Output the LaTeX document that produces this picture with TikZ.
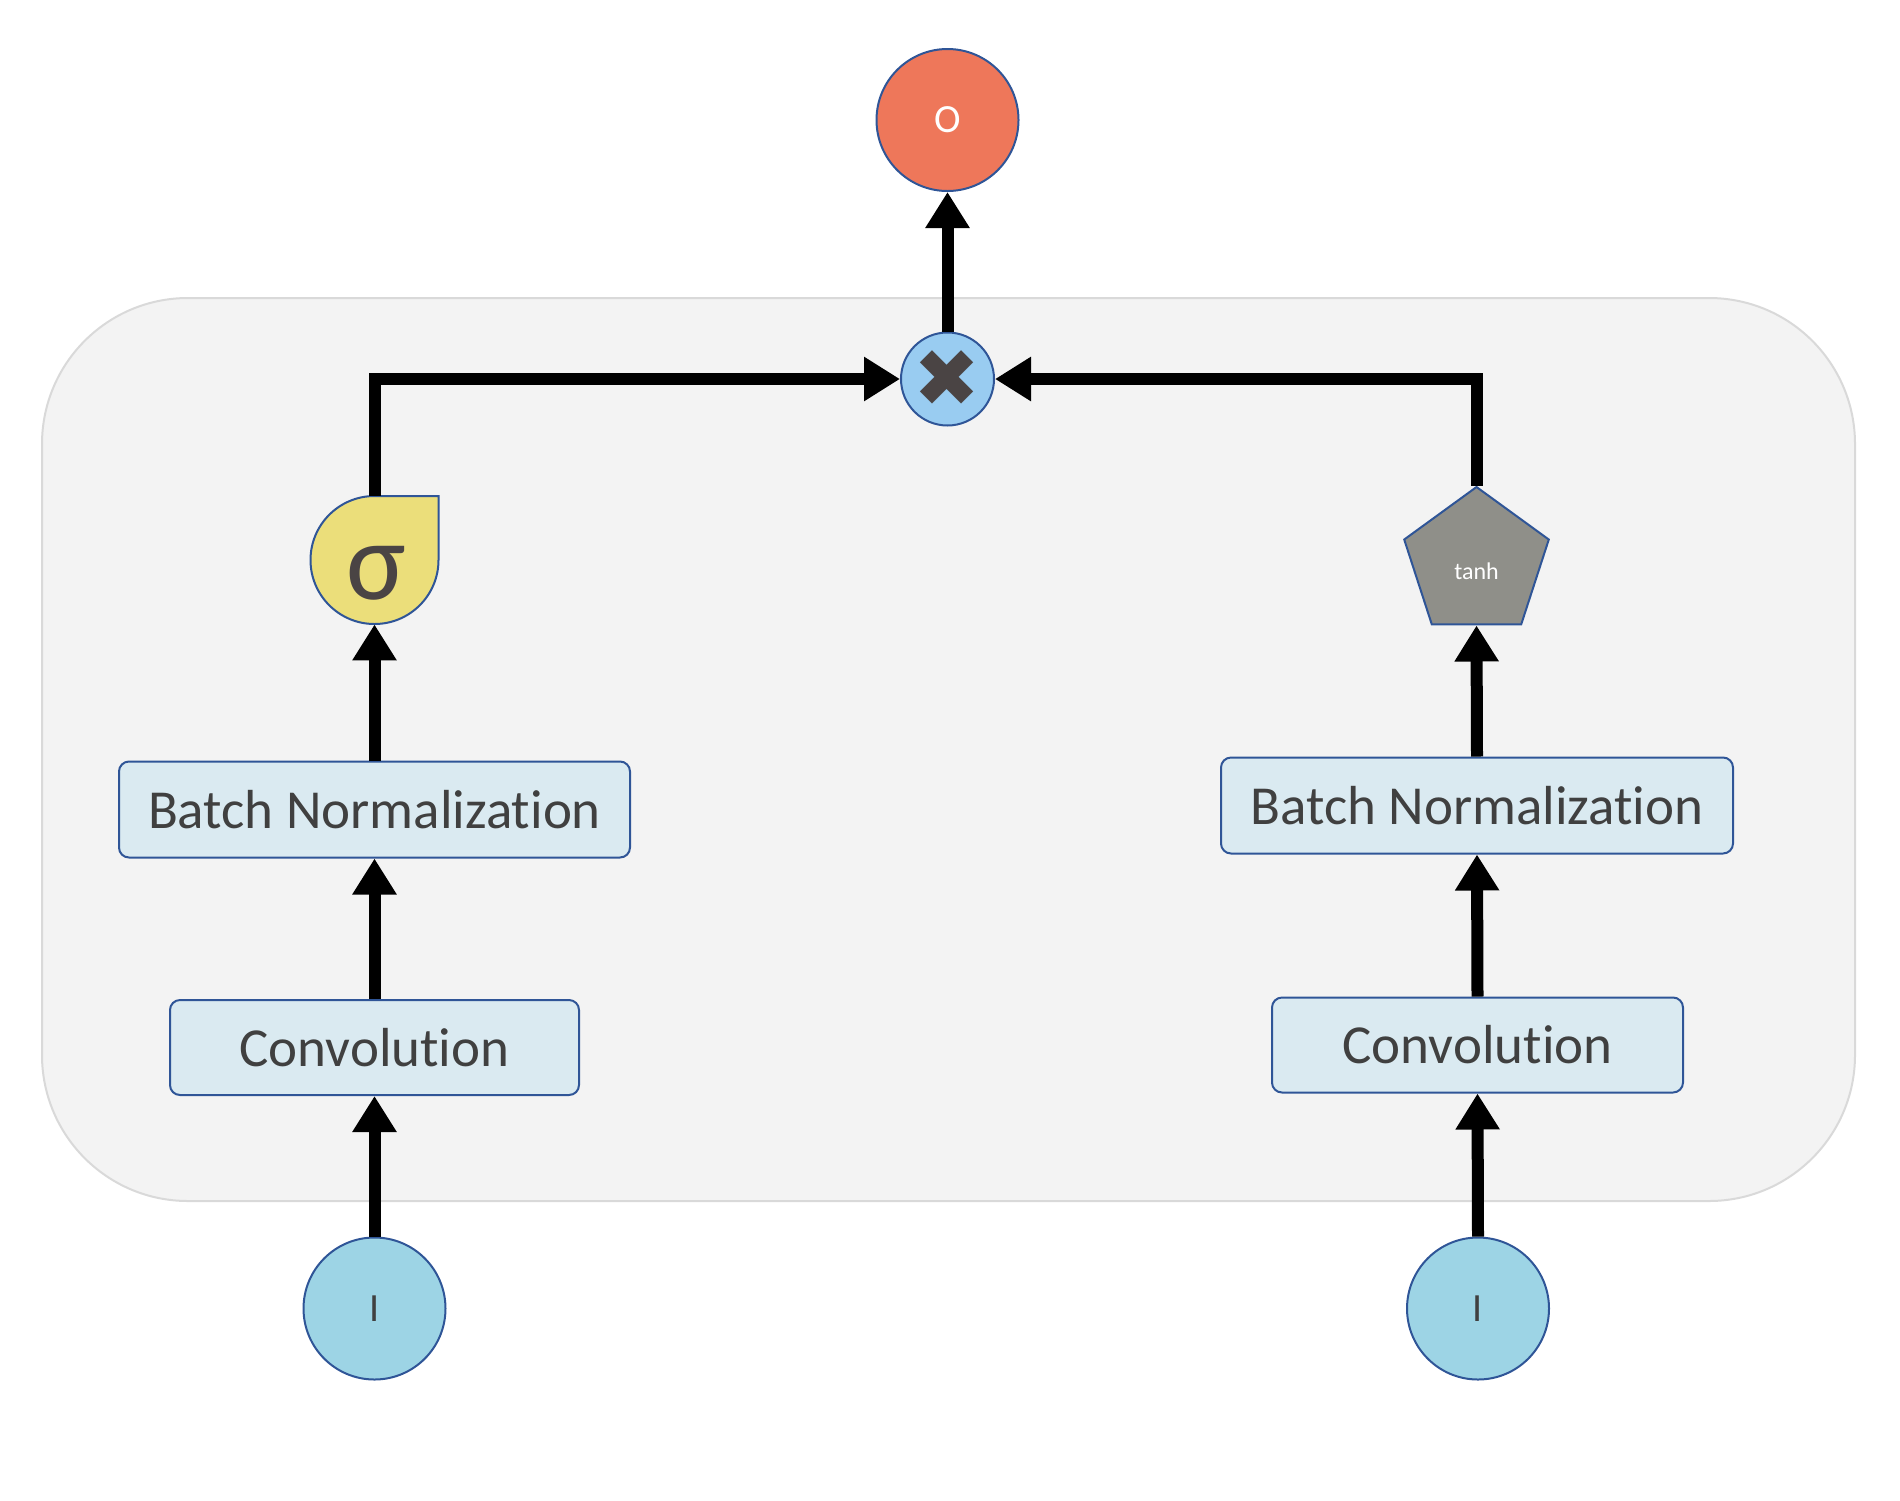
\documentclass[tikz,border=0pt]{standalone}
\usepackage{fontspec}
\setmainfont{Carlito}[Ligatures={NoCommon}]
\newfontfamily\symfont{DejaVu Sans}
\usetikzlibrary{shapes.geometric,arrows.meta}
\definecolor{bord}{HTML}{2F5597}
\definecolor{txt}{HTML}{404040}
\definecolor{boxfill}{HTML}{DAEAF1}
\definecolor{bgfill}{HTML}{F3F3F3}
\definecolor{bgline}{HTML}{D9D9D9}
\definecolor{ofill}{HTML}{EE775A}
\definecolor{mulfill}{HTML}{99CCF1}
\definecolor{ifill}{HTML}{9DD4E5}
\definecolor{sigfill}{HTML}{EBDE7A}
\definecolor{tanhfill}{HTML}{8F8F89}
\definecolor{symcol}{HTML}{4A4444}
\begin{document}
\begin{tikzpicture}[x=0.5pt,y=-0.5pt,
  layerbox/.style={draw=bord,line width=1pt,fill=boxfill,rounded corners=5pt,
    text=txt,font=\fontsize{27.5}{30}\selectfont,inner sep=0pt,minimum height=48pt},
  incirc/.style={circle,draw=bord,line width=1pt,fill=ifill,minimum size=71pt,inner sep=0pt,
    text=txt,font=\fontsize{20}{22}\selectfont},
  flow/.style={line width=6pt,-{Triangle[length=18pt,width=21pt]}},
]
\useasboundingbox (0,0) rectangle (1900,1500);
% background panel
\draw[fill=bgfill,draw=bgline,line width=1pt,rounded corners=73pt] (42,298) rectangle (1855,1201);

% output and multiply
\node[circle,draw=bord,line width=1pt,fill=ofill,minimum size=71pt,inner sep=0pt,
  text=white,font=\fontsize{20}{22}\selectfont] (out) at (947.5,120) {O};
\node[circle,draw=bord,line width=1pt,fill=mulfill,minimum size=46.5pt,inner sep=0pt,
  text=symcol,font=\symfont\fontsize{40}{40}\selectfont] (mul) at (947.5,379) {✖};

% left branch
\node[incirc] (in1) at (374.5,1308.5) {I};
\node[layerbox,minimum width=204.5pt,minimum height=47.5pt] (conv1) at (374.5,1047.5) {Convolution};
\node[layerbox,minimum width=255.5pt] (bn1) at (374.5,809.5) {Batch Normalization};
\node[circle,minimum size=64pt,inner sep=0pt] (sig) at (374.5,560) {};
\draw[draw=bord,line width=1pt,fill=sigfill] (438.5,560) arc[start angle=0,end angle=270,radius=64] -- (438.5,496) -- cycle;
\node[text=symcol,font=\fontsize{56}{56}\selectfont,inner sep=0pt] (sigtext) at (376,573) {σ};

% right branch
\node[incirc] (in2) at (1478,1308.5) {I};
\node[layerbox,minimum width=205.5pt,minimum height=47.5pt] (conv2) at (1477.5,1045) {Convolution};
\node[layerbox,minimum width=256pt] (bn2) at (1477,805.5) {Batch Normalization};
\node[regular polygon,regular polygon sides=5,minimum size=76pt,inner sep=0pt,
  draw=bord,line width=1pt,fill=tanhfill,text=white,font=\fontsize{12}{14}\selectfont] (tanh) at (1476.5,563) {\raisebox{-8pt}[0pt][0pt]{tanh}};

% connectors
\draw[flow] (in1.north) -- (conv1.south);
\draw[flow] (conv1.north) -- (bn1.south);
\draw[flow] (bn1.north) -- (sig.south);
\draw[flow] (sig.north) |- (mul.west);
\draw[flow] (in2.north) -- (conv2.south);
\draw[flow] (conv2.north) -- (bn2.south);
\draw[flow] (bn2.north) -- (tanh.side 3);
\draw[flow] (tanh.corner 1) |- (mul.east);
\draw[flow] (mul.north) -- (out.south);
\end{tikzpicture}
\end{document}
